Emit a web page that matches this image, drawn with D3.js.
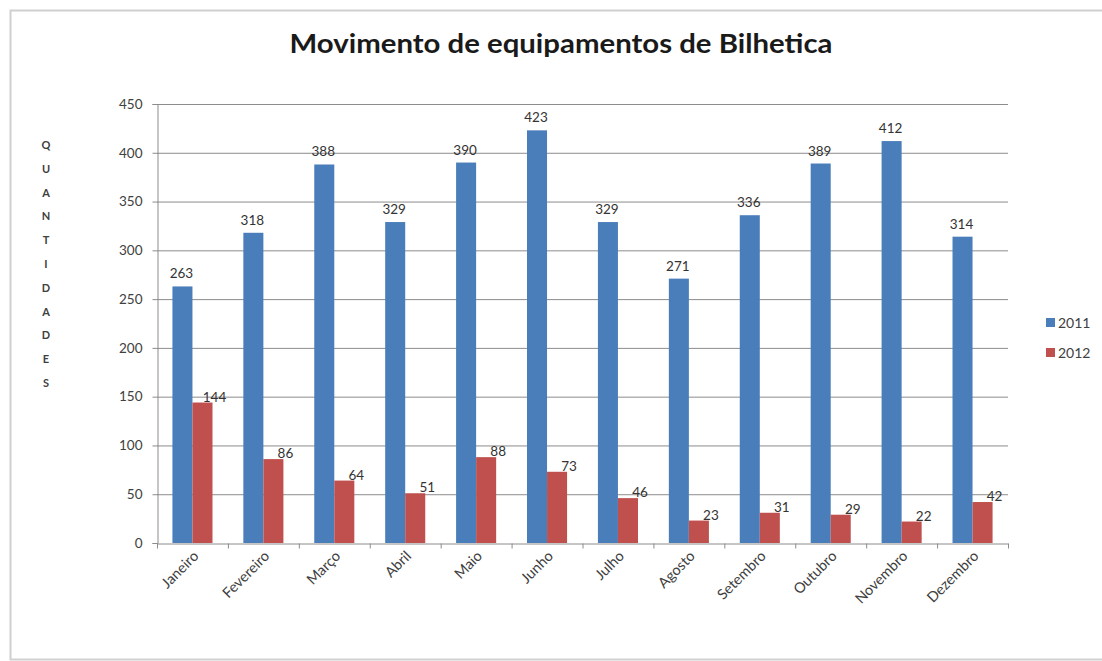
<!DOCTYPE html>
<html><head><meta charset="utf-8">
<script src="https://cdn.jsdelivr.net/npm/d3@7"></script>
<style>body{margin:0;background:#fff;} text{font-family:Lato,"Open Sans",sans-serif;}</style>
</head><body>
<svg id="c" width="1102" height="661"></svg>
<script>
const months = ["Janeiro","Fevereiro","Março","Abril","Maio","Junho","Julho","Agosto","Setembro","Outubro","Novembro","Dezembro"];
const series = ["2011","2012"];
const v2011 = [263,318,388,329,390,423,329,271,336,389,412,314];
const v2012 = [144,86,64,51,88,73,46,23,31,29,22,42];
const yTicks = [0,50,100,150,200,250,300,350,400,450];
const colors = ["#4A7EBB","#C0504D"];
const title = "Movimento de equipamentos de Bilhetica";
const yLabel = "QUANTIDADES";

const svg = d3.select("#c");
svg.append("rect").attr("x",10.5).attr("y",10.5).attr("width",1100).attr("height",649)
  .attr("fill","#fff").attr("stroke","#d0d0d0").attr("stroke-width",2);

const L=157, R=1008, T=104, B=543;
const x = d3.scaleBand().domain(months).range([L,R]).paddingInner(0.435).paddingOuter(0.2175);
const x0 = d3.scaleBand().domain(months).range([L,R]);
const xs = d3.scaleBand().domain(series).range([0,x.bandwidth()]);
const y = d3.scaleLinear().domain([0,450]).range([B,T]);

// gridlines
svg.append("g").selectAll("line").data(yTicks.filter(d=>d>0)).join("line")
  .attr("x1",L).attr("x2",R).attr("y1",d=>y(d)+0.5).attr("y2",d=>y(d)+0.5)
  .attr("stroke","#8c8c8c").attr("stroke-width",1);

// y axis
const ya = svg.append("g").attr("transform",`translate(${L+0.5},0)`)
  .call(d3.axisLeft(y).tickValues(yTicks).tickSize(5).tickPadding(10));
ya.select(".domain").attr("stroke","#8c8c8c");
ya.selectAll(".tick line").attr("stroke","#8c8c8c");
ya.selectAll("text").attr("font-size",13.5).attr("fill","#404040");

// bars
const g = svg.append("g");
series.forEach((s,si)=>{
  const arr = si===0 ? v2011 : v2012;
  g.selectAll(".b"+si).data(months).join("rect")
    .attr("x",(d,i)=>x(d)+xs(s)).attr("width",xs.bandwidth())
    .attr("y",(d,i)=>y(arr[i])).attr("height",(d,i)=>B-y(arr[i]))
    .attr("fill",colors[si]);
});

// data labels
g.selectAll(".l0").data(months).join("text")
  .attr("x",d=>x(d)+xs("2011")+xs.bandwidth()/2-1)
  .attr("y",(d,i)=>y(v2011[i])-8)
  .attr("text-anchor","middle").attr("font-size",13.5).attr("fill","#333")
  .text((d,i)=>v2011[i]);
g.selectAll(".l1").data(months).join("text")
  .attr("x",d=>x(d)+xs("2012")+xs.bandwidth()+2)
  .attr("y",(d,i)=>y(v2012[i])-1)
  .attr("text-anchor","middle").attr("font-size",13.5).attr("fill","#333")
  .text((d,i)=>v2012[i]);

// x axis
const xa = svg.append("g").attr("transform",`translate(0,${B+0.5})`)
  .call(d3.axisBottom(x0).tickSize(0).tickFormat(""));
xa.select(".domain").attr("stroke","#8c8c8c");
xa.selectAll(".tick").remove();
xa.selectAll(".tk").data(d3.range(13)).join("line")
  .attr("x1",i=>L+i*x0.step()+0.5).attr("x2",i=>L+i*x0.step()+0.5)
  .attr("y1",0).attr("y2",5).attr("stroke","#8c8c8c");
svg.append("g").selectAll("text").data(months).join("text")
  .attr("transform",d=>`translate(${x0(d)+x0.bandwidth()/2+7},${B+14}) rotate(-45)`)
  .attr("text-anchor","end").attr("font-size",14.5).attr("fill","#404040")
  .text(d=>d);

// title
svg.append("text").attr("x",561).attr("y",53).attr("text-anchor","middle")
  .attr("font-size",27).attr("font-weight","bold").attr("fill","#1a1a1a")
  .attr("textLength",543).attr("lengthAdjust","spacingAndGlyphs").text(title);

// y label
svg.append("g").selectAll("text").data(yLabel.split("")).join("text")
  .attr("x",46).attr("y",(d,i)=>149+i*23.8).attr("text-anchor","middle")
  .attr("font-size",11).attr("font-weight","bold").attr("fill","#404040").text(d=>d);

// legend
const lg = svg.append("g");
series.forEach((s,i)=>{
  lg.append("rect").attr("x",1046).attr("y",318+i*30).attr("width",9).attr("height",9).attr("fill",colors[i]);
  lg.append("text").attr("x",1058).attr("y",327.5+i*30).attr("font-size",14).attr("fill","#404040").text(s);
});
</script>
</body></html>
